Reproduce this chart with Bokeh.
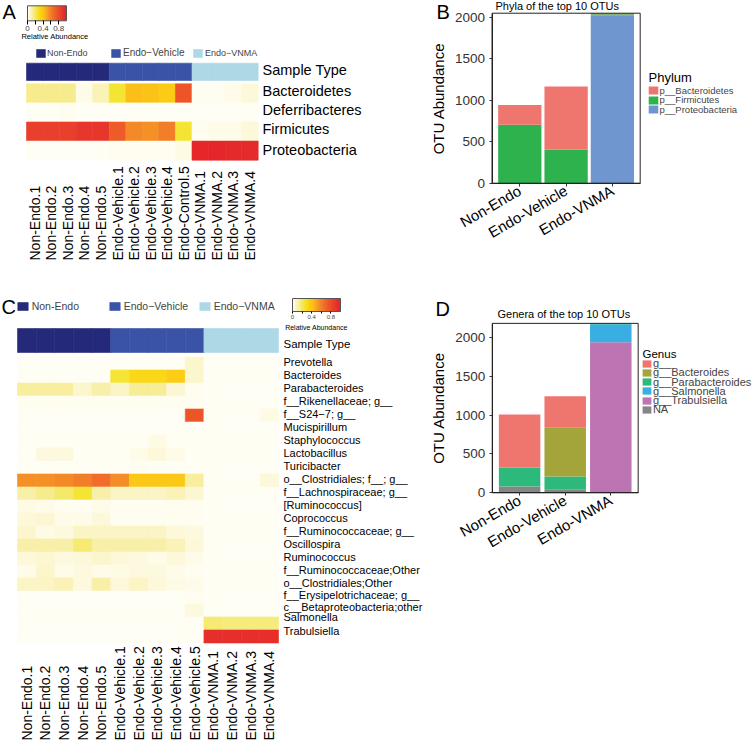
import math
from bokeh.plotting import figure
from bokeh.layouts import row, column
from bokeh.models import (ColumnDataSource, Range1d, Legend, LegendItem, ColorBar,
                          LinearColorMapper, FixedTicker, LinearAxis, AllLabels)
from bokeh.transform import factor_cmap
from bokeh.core.properties import value
from bokeh.embed import file_html
from bokeh.resources import INLINE

FONT = "Liberation Sans"

# ============================ DATA ============================
groups = ["Non-Endo", "Endo-Vehicle", "Endo-VNMA"]
group_keys = ["Non-Endo", "Endo\u2212Vehicle", "Endo\u2212VNMA"]

samples_A = ["Non-Endo.1", "Non-Endo.2", "Non-Endo.3", "Non-Endo.4", "Non-Endo.5",
             "Endo-Vehicle.1", "Endo-Vehicle.2", "Endo-Vehicle.3", "Endo-Vehicle.4", "Endo-Control.5",
             "Endo-VNMA.1", "Endo-VNMA.2", "Endo-VNMA.3", "Endo-VNMA.4"]
samples_C = ["Non-Endo.1", "Non-Endo.2", "Non-Endo.3", "Non-Endo.4", "Non-Endo.5",
             "Endo-Vehicle.1", "Endo-Vehicle.2", "Endo-Vehicle.3", "Endo-Vehicle.4", "Endo-Vehicle.5",
             "Endo-VNMA.1", "Endo-VNMA.2", "Endo-VNMA.3", "Endo-VNMA.4"]
sample_type = ["Non-Endo", "Non-Endo", "Non-Endo", "Non-Endo", "Non-Endo",
               "Endo-Vehicle", "Endo-Vehicle", "Endo-Vehicle", "Endo-Vehicle", "Endo-Vehicle",
               "Endo-VNMA", "Endo-VNMA", "Endo-VNMA", "Endo-VNMA"]

# Panel A: relative abundance of phyla per sample
phyla_rows = ["Bacteroidetes", "Deferribacteres", "Firmicutes", "Proteobacteria"]
ra_bacteroidetes = [0.15, 0.15, 0.15, 0.02, 0.10, 0.25, 0.42, 0.41, 0.37, 0.75, 0.01, 0.01, 0.02, 0.05]
ra_deferribacteres = [0.00, 0.00, 0.01, 0.00, 0.00, 0.00, 0.00, 0.00, 0.00, 0.00, 0.00, 0.00, 0.00, 0.00]
ra_firmicutes = [0.85, 0.85, 0.85, 0.90, 0.90, 0.73, 0.57, 0.55, 0.60, 0.25, 0.01, 0.02, 0.02, 0.05]
ra_proteobacteria = [0.00, 0.00, 0.00, 0.00, 0.00, 0.01, 0.01, 0.01, 0.01, 0.03, 0.97, 0.97, 0.96, 0.95]

# Panel C: relative abundance of genera per sample
genus_rows = ["Prevotella", "Bacteroides", "Parabacteroides", "f__Rikenellaceae; g__",
              "f__S24\u22127; g__", "Mucispirillum", "Staphylococcus", "Lactobacillus",
              "Turicibacter", "o__Clostridiales; f__; g__", "f__Lachnospiraceae; g__",
              "[Ruminococcus]", "Coprococcus", "f__Ruminococcaceae; g__", "Oscillospira",
              "Ruminococcus", "f__Ruminococcaceae;Other", "o__Clostridiales;Other",
              "f__Erysipelotrichaceae; g__", "c__Betaproteobacteria;other", "Salmonella",
              "Trabulsiella"]
g_prevotella = [0, 0, 0, 0, 0, 0, 0, 0, 0, 0.07, 0, 0, 0, 0]
g_bacteroides = [0, 0, 0, 0, 0, 0.25, 0.32, 0.32, 0.36, 0.07, 0, 0, 0, 0]
g_parabacteroides = [0.13, 0.13, 0.13, 0.07, 0.12, 0.08, 0.14, 0.14, 0.06, 0.01, 0, 0, 0, 0]
g_rikenellaceae = [0.01, 0.01, 0.01, 0.01, 0.01, 0.01, 0.01, 0.01, 0.01, 0.01, 0, 0, 0, 0]
g_s24_7 = [0, 0, 0, 0, 0, 0, 0, 0, 0, 0.75, 0, 0, 0, 0.03]
g_mucispirillum = [0, 0, 0, 0, 0, 0, 0, 0, 0, 0, 0, 0, 0, 0]
g_staphylococcus = [0, 0, 0, 0, 0, 0, 0, 0.03, 0, 0, 0, 0, 0, 0]
g_lactobacillus = [0, 0.04, 0.04, 0, 0, 0, 0.02, 0.05, 0.02, 0, 0, 0, 0, 0]
g_turicibacter = [0, 0, 0, 0, 0, 0, 0.01, 0, 0, 0, 0, 0, 0, 0]
g_clostridiales = [0.55, 0.55, 0.57, 0.60, 0.66, 0.56, 0.38, 0.38, 0.38, 0.13, 0, 0, 0, 0.05]
g_lachnospiraceae = [0.12, 0.15, 0.19, 0.25, 0.12, 0.08, 0.08, 0.08, 0.10, 0.06, 0, 0, 0, 0]
g_ruminococcus_br = [0.03, 0.02, 0.01, 0.01, 0.02, 0.01, 0.01, 0.01, 0.01, 0.01, 0, 0, 0, 0]
g_coprococcus = [0.05, 0.06, 0.02, 0.02, 0.05, 0.01, 0.01, 0.01, 0.01, 0.01, 0, 0, 0, 0]
g_ruminococcaceae = [0.07, 0.03, 0.04, 0.08, 0.08, 0.08, 0.08, 0.08, 0.05, 0.04, 0, 0, 0, 0]
g_oscillospira = [0.12, 0.12, 0.12, 0.18, 0.12, 0.12, 0.12, 0.12, 0.10, 0.05, 0, 0, 0, 0]
g_ruminococcus = [0.05, 0.06, 0.04, 0.05, 0.07, 0.05, 0.04, 0.02, 0.05, 0.02, 0, 0, 0, 0]
g_ruminococcaceae_other = [0.02, 0.07, 0.02, 0.04, 0.02, 0.03, 0.04, 0.04, 0.02, 0.01, 0, 0, 0, 0]
g_clostridiales_other = [0.08, 0.08, 0.10, 0.04, 0.12, 0.05, 0.08, 0.05, 0.03, 0.02, 0, 0, 0, 0]
g_erysipelotrichaceae = [0, 0, 0, 0, 0, 0, 0, 0, 0, 0.01, 0, 0, 0, 0]
g_betaproteobacteria = [0, 0, 0, 0, 0, 0, 0, 0, 0, 0.04, 0, 0, 0, 0]
g_salmonella = [0, 0, 0, 0, 0, 0, 0, 0, 0, 0, 0.18, 0.17, 0.17, 0.17]
g_trabulsiella = [0, 0, 0, 0, 0, 0, 0, 0, 0, 0, 0.93, 0.93, 0.94, 0.93]

# Panel B: phyla of the top 10 OTUs (OTU abundance)
phylum_names = ["p__Bacteroidetes", "p__Firmicutes", "p__Proteobacteria"]
phy_bacteroidetes = [240, 763, 13]
phy_firmicutes = [703, 402, 15]
phy_proteobacteria = [0, 0, 2020]

# Panel D: genera of the top 10 OTUs (OTU abundance)
genus_names = ["g__", "g__Bacteroides", "g__Parabacteroides", "g__Salmonella", "g__Trabulsiella", "NA"]
gen_unassigned = [680, 399, 6]
gen_bacteroides = [0, 632, 0]
gen_parabacteroides = [247, 164, 4]
gen_salmonella = [0, 0, 232]
gen_trabulsiella = [0, 0, 1940]
gen_na = [80, 47, 0]

# ============================ STYLE ============================
group_colors = ["#25297A", "#3A53A6", "#ADD8E6"]
phylum_colors = ["#EF766E", "#2DB24D", "#7096D0"]
genus_colors = ["#EF766E", "#A3A43A", "#2EB97C", "#38AEE2", "#BC75B2", "#868686"]

heat_stops = [(0.00, "#FFFEF4"), (0.05, "#FDF8D8"), (0.12, "#F8EFA6"), (0.20, "#F5E862"),
              (0.26, "#F4E42C"), (0.33, "#FBD412"), (0.42, "#FBBF18"), (0.50, "#F7A222"),
              (0.60, "#F27E2A"), (0.72, "#EF5C28"), (0.85, "#E8402C"), (1.00, "#E4222A")]


def _rgb(h):
    return [int(h[i:i + 2], 16) for i in (1, 3, 5)]


heat_palette = []
for k in range(256):
    t = k / 255.0
    for (a, ca), (b, cb) in zip(heat_stops[:-1], heat_stops[1:]):
        if a <= t <= b:
            f = (t - a) / (b - a)
            c0, c1 = _rgb(ca), _rgb(cb)
            heat_palette.append("#%02X%02X%02X" % tuple(int(round(c0[j] + (c1[j] - c0[j]) * f)) for j in range(3)))
            break

heat = LinearColorMapper(palette=heat_palette, low=0, high=1)


def base_fig(W, H, xr, yr):
    p = figure(width=W, height=H, x_range=Range1d(*xr), y_range=Range1d(*yr),
               output_backend="svg", toolbar_location=None, x_axis_location=None,
               y_axis_location=None, min_border=0)
    p.grid.visible = False
    p.outline_line_color = None
    p.title.visible = False
    return p


def txt(p, xs, ys, texts, size, align="left", baseline="middle", angle=0.0, color="black"):
    p.text(x=xs, y=ys, text=texts, text_font=value(FONT), text_font_size=size,
           text_align=align, text_baseline=baseline, angle=angle, text_color=color)


def one_legend(renderer, index, label, x, vy, size, gw, gh, standoff):
    return Legend(items=[LegendItem(label=label, renderers=[renderer], index=index)],
                  location=(x, vy), orientation="horizontal", padding=0, margin=0, spacing=0,
                  border_line_alpha=0, background_fill_alpha=0, glyph_width=gw, glyph_height=gh,
                  label_height=gh, label_standoff=standoff, label_text_font=FONT,
                  label_text_font_size=size)


def heat_colorbar(x, vy, w, h, tick, font):
    return ColorBar(color_mapper=heat, orientation="horizontal", width=w, height=h,
                    ticker=FixedTicker(ticks=[0, 0.4, 0.8], minor_ticks=[0.2, 0.6]),
                    major_label_policy=AllLabels(),
                    major_label_text_font=FONT, major_label_text_font_size=font,
                    major_tick_in=0, major_tick_out=tick, major_tick_line_color="black",
                    minor_tick_in=0, minor_tick_out=tick, minor_tick_line_color="black",
                    label_standoff=1, padding=0, margin=0, border_line_color=None,
                    bar_line_color="#555555", background_fill_alpha=0, location=(x, vy))


def heat_panel(W, H, x0, u, y0, v, rows_values, row_names, samples, bar_top, bar_bot,
               label_x, row_font, st_label_y, st_font, col_bottom, col_font, row_nudge):
    ax = lambda px: (px - x0) / u
    ay = lambda py: (py - y0) / v
    p = base_fig(W, H, (ax(0), ax(W)), (ay(H), ay(0)))
    xs, ys, vs = [], [], []
    for r, vals in enumerate(rows_values):
        for c, val in enumerate(vals):
            xs.append(c + 0.5)
            ys.append(r + 0.5)
            vs.append(val)
    p.rect(x="x", y="y", width=1, height=1, source=ColumnDataSource(dict(x=xs, y=ys, v=vs)),
           fill_color={"field": "v", "transform": heat},
           line_color={"field": "v", "transform": heat}, line_width=0.6)
    n = len(samples)
    sbar = ColumnDataSource(dict(x=[i + 0.5 for i in range(n)],
                                 y=[ay((bar_top + bar_bot) / 2)] * n, grp=sample_type))
    cmap = factor_cmap("grp", palette=group_colors, factors=groups)
    rbar = p.rect(x="x", y="y", width=1, height=(bar_bot - bar_top) / v, source=sbar,
                  fill_color=cmap, line_color=cmap, line_width=0.6)
    txt(p, [ax(label_x)], [ay(st_label_y)], ["Sample Type"], st_font)
    txt(p, [ax(label_x)] * len(row_names), [r + 0.5 + row_nudge[r] / v for r in range(len(row_names))],
        row_names, row_font)
    txt(p, [i + 0.5 for i in range(n)], [ay(col_bottom)] * n, samples, col_font,
        align="left", baseline="middle", angle=math.pi / 2)
    return p, rbar, ax, ay


# ============================ PANEL A ============================
W_A, H_A = 380, 295
figA, rbarA, axA, ayA = heat_panel(
    W_A, H_A, 26.0, 231.7 / 14, 83.3, 19.1,
    [ra_bacteroidetes, ra_deferribacteres, ra_firmicutes, ra_proteobacteria], phyla_rows, samples_A,
    62.7, 80.0, 262, "14.5px", 69.3, "14.5px", 260, "14px", [-2.1, -2.6, -2.7, -0.9])
txt(figA, [axA(2)], [ayA(0)], ["A"], "20px", baseline="top")
txt(figA, [axA(54.5)], [ayA(35.5)], ["Relative Abundance"], "7.5px", align="center")
figA.add_layout(one_legend(rbarA, 0, group_keys[0], 35, H_A - 58, "9px", 11, 10, 1), "center")
figA.add_layout(one_legend(rbarA, 5, group_keys[1], 110, H_A - 58, "10px", 11, 10, 2), "center")
figA.add_layout(one_legend(rbarA, 10, group_keys[2], 192, H_A - 58, "9px", 11, 10, 2), "center")
figA.add_layout(heat_colorbar(27, H_A - 3.3 - 30, 39, 15, 4, "8px"), "center")

# ============================ PANEL C ============================
W_C, H_C = 428, 447
nudgeC = [-1.3] * 18 + [-2.7, -4.0, -6.3, -6.0]
figC, rbarC, axC, ayC = heat_panel(
    W_C, H_C, 17.0, 261.0 / 14, 61.5, 13.0,
    [g_prevotella, g_bacteroides, g_parabacteroides, g_rikenellaceae, g_s24_7, g_mucispirillum,
     g_staphylococcus, g_lactobacillus, g_turicibacter, g_clostridiales, g_lachnospiraceae,
     g_ruminococcus_br, g_coprococcus, g_ruminococcaceae, g_oscillospira, g_ruminococcus,
     g_ruminococcaceae_other, g_clostridiales_other, g_erysipelotrichaceae, g_betaproteobacteria,
     g_salmonella, g_trabulsiella], genus_rows, samples_C,
    33.0, 57.0, 283, "11px", 48.3, "11.5px", 445, "14px", nudgeC)
txt(figC, [axC(1)], [ayC(0)], ["C"], "20px", baseline="top")
txt(figC, [axC(316)], [ayC(32)], ["Relative Abundance"], "7px", align="center")
figC.add_layout(one_legend(rbarC, 0, group_keys[0], 15.7, H_C - 17, "10.5px", 13, 10, 3), "center")
figC.add_layout(one_legend(rbarC, 5, group_keys[1], 107.7, H_C - 17, "10.5px", 13, 10, 3), "center")
figC.add_layout(one_legend(rbarC, 10, group_keys[2], 197.7, H_C - 17, "10.5px", 13, 10, 3), "center")
figC.add_layout(heat_colorbar(292, H_C - 4 - 22, 48, 13, 2, "6px"), "center")


# ============================ BAR PANELS ============================
def bar_panel(W, H, x_zero, ux, y_zero, uy, stack_names, stack_values, colors, legend_order,
              bar_w, letter, letter_pos, title, title_pos, leg_title, leg_title_pos, leg_title_size,
              leg_x, leg_first_y, leg_step, leg_font, gw, gh, leg_box_half):
    # x_zero / y_zero: pixel of the first category centre / of the value 0; ux px per category,
    # uy value units per px
    xr = ((0 - x_zero) / ux, (W - x_zero) / ux)
    yr = (-(H - y_zero) * uy, y_zero * uy)
    px = lambda sx: (sx - x_zero) / ux
    py = lambda sy: (y_zero - sy) * uy
    p = base_fig(W, H, xr, yr)
    data = dict(xpos=list(range(len(groups))))
    for nm, vals in zip(stack_names, stack_values):
        data[nm] = vals
    totals = [sum(t) for t in zip(*stack_values)]
    top = max(totals)
    lo, hi = -0.6, len(groups) - 0.4
    rs = p.vbar_stack(stack_names, x="xpos", width=bar_w, color=colors, line_color=None,
                      source=ColumnDataSource(data))
    p.quad(left=[lo], right=[hi], bottom=[0], top=[top], fill_color=None, line_color="#222222",
           line_width=1)
    yax = LinearAxis(fixed_location=lo, bounds=(0, top), ticker=FixedTicker(ticks=[0, 500, 1000, 1500, 2000]),
                     axis_label="OTU Abundance", axis_label_text_font=FONT,
                     axis_label_text_font_size="15px", axis_label_text_font_style="normal",
                     axis_label_text_color="black", axis_label_standoff=5,
                     major_label_text_font=FONT, major_label_text_font_size="13.5px",
                     major_label_text_color="#333333", major_label_standoff=4,
                     major_tick_in=0, major_tick_out=3, major_tick_line_color="#333333",
                     minor_tick_line_color=None, axis_line_color="#222222")
    p.add_layout(yax, "left")
    xax = LinearAxis(fixed_location=0, bounds=(lo, hi),
                     ticker=FixedTicker(ticks=list(range(len(groups)))),
                     major_label_overrides={i: g for i, g in enumerate(groups)},
                     major_label_orientation=math.pi / 6, major_label_text_font=FONT,
                     major_label_text_font_size="15px", major_label_text_color="black",
                     major_label_standoff=3, major_tick_in=0, major_tick_out=3,
                     major_tick_line_color="#333333", minor_tick_line_color=None,
                     axis_line_color="#222222")
    p.add_layout(xax, "below")
    txt(p, [px(letter_pos[0])], [py(letter_pos[1])], [letter], "20px", baseline="top")
    txt(p, [px(title_pos[0])], [py(title_pos[1])], [title], "11px", baseline="middle")
    # legend: title text + one single-item legend per key, stacked at a fixed step
    txt(p, [px(leg_title_pos[0])], [py(leg_title_pos[1])], [leg_title], leg_title_size)
    for k, i in enumerate(legend_order):
        centre = leg_first_y + k * leg_step
        p.add_layout(Legend(items=[LegendItem(label=stack_names[i], renderers=[rs[i]])],
                            location=(leg_x, H - centre - leg_box_half), orientation="vertical",
                            padding=0, margin=0, spacing=0, border_line_alpha=0,
                            background_fill_alpha=0, glyph_width=gw, glyph_height=gh,
                            label_height=gh, label_standoff=1, label_text_font=FONT,
                            label_text_font_size=leg_font), "center")
    return p


# Panel B (internal coords: x = ref - 380, y = ref)
W_B, H_B = 372, 295
figB = bar_panel(W_B, H_B, 139.3, 46.3, 182.7, 2000 / 166.0,
                 ["p__Proteobacteria", "p__Firmicutes", "p__Bacteroidetes"],
                 [phy_proteobacteria, phy_firmicutes, phy_bacteroidetes],
                 [phylum_colors[2], phylum_colors[1], phylum_colors[0]], [2, 1, 0],
                 0.935, "B", (56, 0), "Phyla of the top 10 OTUs", (115, 5.5),
                 "Phylum", (268, 77), "13px", 266.5, 90.0, 9.7, "9.5px", 12, 10, 5.5)

# Panel D (internal coords: x = ref - 428, y = ref - 295)
W_D, H_D = 324, 447
figD = bar_panel(W_D, H_D, 91.1, 45.6, 197.3, 2000 / 155.3,
                 ["NA", "g__Trabulsiella", "g__Salmonella", "g__Parabacteroides", "g__Bacteroides", "g__"],
                 [gen_na, gen_trabulsiella, gen_salmonella, gen_parabacteroides, gen_bacteroides, gen_unassigned],
                 [genus_colors[5], genus_colors[4], genus_colors[3], genus_colors[2], genus_colors[1], genus_colors[0]],
                 [5, 4, 3, 2, 1, 0],
                 0.91, "D", (7, 2), "Genera of the top 10 OTUs", (69, 18),
                 "Genus", (214, 58), "11.5px", 212.9, 68.0, 9.2, "11px", 11, 9, 6.2)

layout = column(row(figA, figB), row(figC, figD))
open("out.html", "w").write(file_html(layout, INLINE))
